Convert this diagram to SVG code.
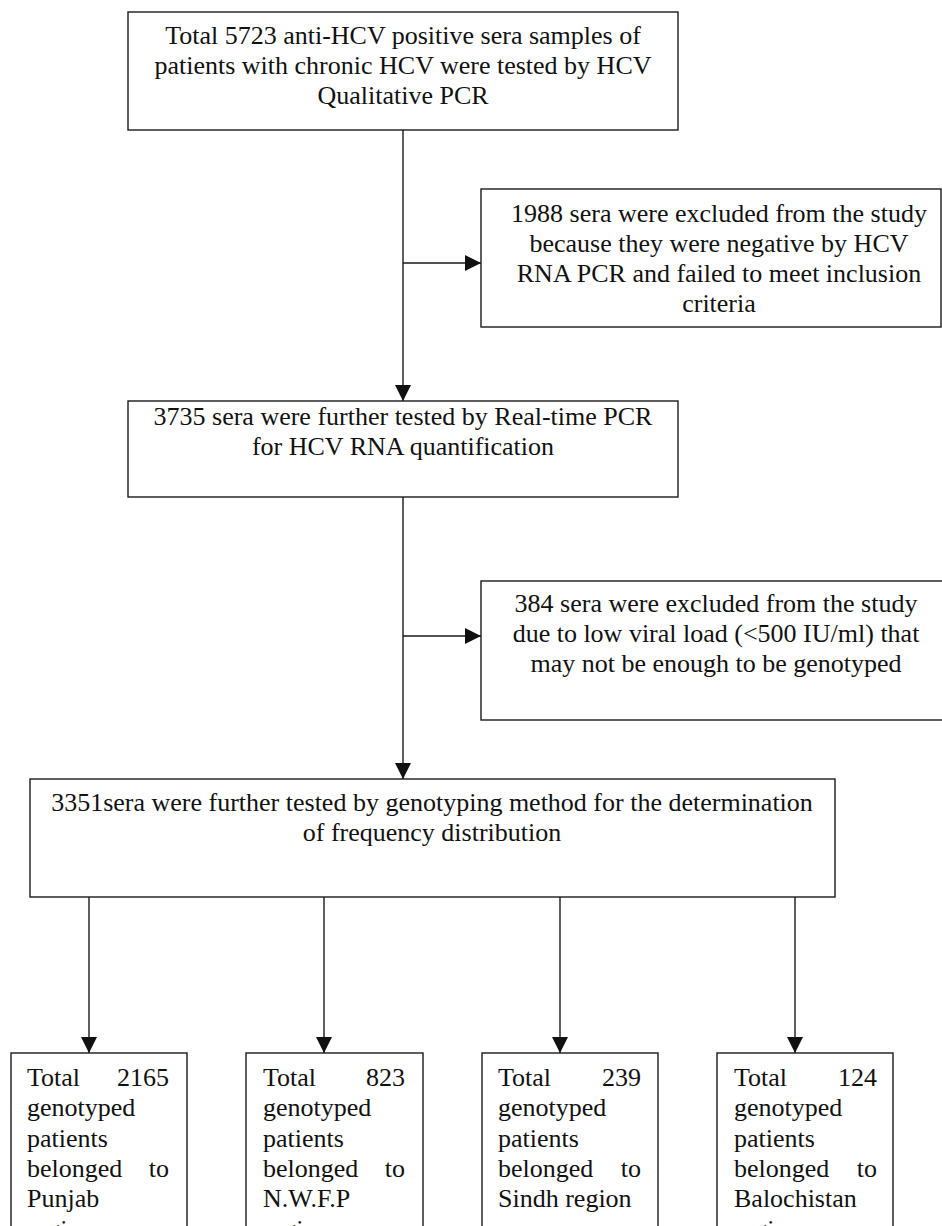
<svg xmlns="http://www.w3.org/2000/svg" width="942" height="1226" viewBox="0 0 942 1226">
<style>
.box{fill:#fff;stroke:#1a1a1a;stroke-width:1.4}
.t{font-family:"Liberation Serif","Times New Roman",serif;font-size:26px;fill:#111}
.c{text-anchor:middle}
.e{text-anchor:end}
.ln{stroke:#1a1a1a;stroke-width:1.4;fill:none}
</style>
<defs>
<marker id="ah" markerUnits="userSpaceOnUse" markerWidth="16" markerHeight="16" refX="16" refY="8" orient="auto">
<path d="M0,0 L16,8 L0,16 z" fill="#111"/>
</marker>
</defs>
<rect width="942" height="1226" fill="#fff"/>
<g id="connectors">
<line class="ln" x1="403" y1="130" x2="403" y2="401" marker-end="url(#ah)"/>
<line class="ln" x1="403" y1="263" x2="481" y2="263" marker-end="url(#ah)"/>
<line class="ln" x1="403" y1="497" x2="403" y2="779" marker-end="url(#ah)"/>
<line class="ln" x1="403" y1="636" x2="481" y2="636" marker-end="url(#ah)"/>
<line class="ln" x1="89" y1="897" x2="89" y2="1053" marker-end="url(#ah)"/>
<line class="ln" x1="324" y1="897" x2="324" y2="1053" marker-end="url(#ah)"/>
<line class="ln" x1="560" y1="897" x2="560" y2="1053" marker-end="url(#ah)"/>
<line class="ln" x1="795" y1="897" x2="795" y2="1053" marker-end="url(#ah)"/>
</g>
<g id="n1">
<rect class="box" x="128" y="12" width="550" height="118"/>
<text class="t c" x="403" y="44">Total 5723 anti-HCV positive sera samples of</text>
<text class="t c" x="403" y="74">patients with chronic HCV were tested by HCV</text>
<text class="t c" x="403" y="104">Qualitative PCR</text>
</g>
<g id="n2">
<rect class="box" x="481" y="189" width="460" height="138"/>
<text class="t c" x="719" y="222">1988 sera were excluded from the study</text>
<text class="t c" x="719" y="252">because they were negative by HCV</text>
<text class="t c" x="719" y="282">RNA PCR and failed to meet inclusion</text>
<text class="t c" x="719" y="312">criteria</text>
</g>
<g id="n3">
<rect class="box" x="128" y="401" width="550" height="96"/>
<text class="t c" x="403" y="425">3735 sera were further tested by Real-time PCR</text>
<text class="t c" x="403" y="455">for HCV RNA quantification</text>
</g>
<g id="n4">
<rect class="box" x="481" y="581" width="480" height="139"/>
<text class="t c" x="716" y="612">384 sera were excluded from the study</text>
<text class="t c" x="716" y="642">due to low viral load (&lt;500 IU/ml) that</text>
<text class="t c" x="716" y="672">may not be enough to be genotyped</text>
</g>
<g id="n5">
<rect class="box" x="30" y="779" width="805" height="118"/>
<text class="t c" x="432" y="811">3351sera were further tested by genotyping method for the determination</text>
<text class="t c" x="432" y="841">of frequency distribution</text>
</g>
<g id="n6">
<rect class="box" x="11" y="1053" width="176" height="200"/>
<text class="t" x="27" y="1086">Total</text><text class="t e" x="169" y="1086">2165</text>
<text class="t" x="27" y="1116">genotyped</text>
<text class="t" x="27" y="1147">patients</text>
<text class="t" x="27" y="1177">belonged</text><text class="t e" x="169" y="1177">to</text>
<text class="t" x="27" y="1207">Punjab</text>
<text class="t" x="27" y="1238">region</text>
</g>
<g id="n7">
<rect class="box" x="246" y="1053" width="177" height="200"/>
<text class="t" x="263" y="1086">Total</text><text class="t e" x="405" y="1086">823</text>
<text class="t" x="263" y="1116">genotyped</text>
<text class="t" x="263" y="1147">patients</text>
<text class="t" x="263" y="1177">belonged</text><text class="t e" x="405" y="1177">to</text>
<text class="t" x="263" y="1207">N.W.F.P</text>
<text class="t" x="263" y="1238">region</text>
</g>
<g id="n8">
<rect class="box" x="482" y="1053" width="176" height="200"/>
<text class="t" x="498" y="1086">Total</text><text class="t e" x="641" y="1086">239</text>
<text class="t" x="498" y="1116">genotyped</text>
<text class="t" x="498" y="1147">patients</text>
<text class="t" x="498" y="1177">belonged</text><text class="t e" x="641" y="1177">to</text>
<text class="t" x="498" y="1207">Sindh region</text>
</g>
<g id="n9">
<rect class="box" x="717" y="1053" width="176" height="200"/>
<text class="t" x="734" y="1086">Total</text><text class="t e" x="877" y="1086">124</text>
<text class="t" x="734" y="1116">genotyped</text>
<text class="t" x="734" y="1147">patients</text>
<text class="t" x="734" y="1177">belonged</text><text class="t e" x="877" y="1177">to</text>
<text class="t" x="734" y="1207">Balochistan</text>
<text class="t" x="734" y="1238">region</text>
</g>
</svg>
